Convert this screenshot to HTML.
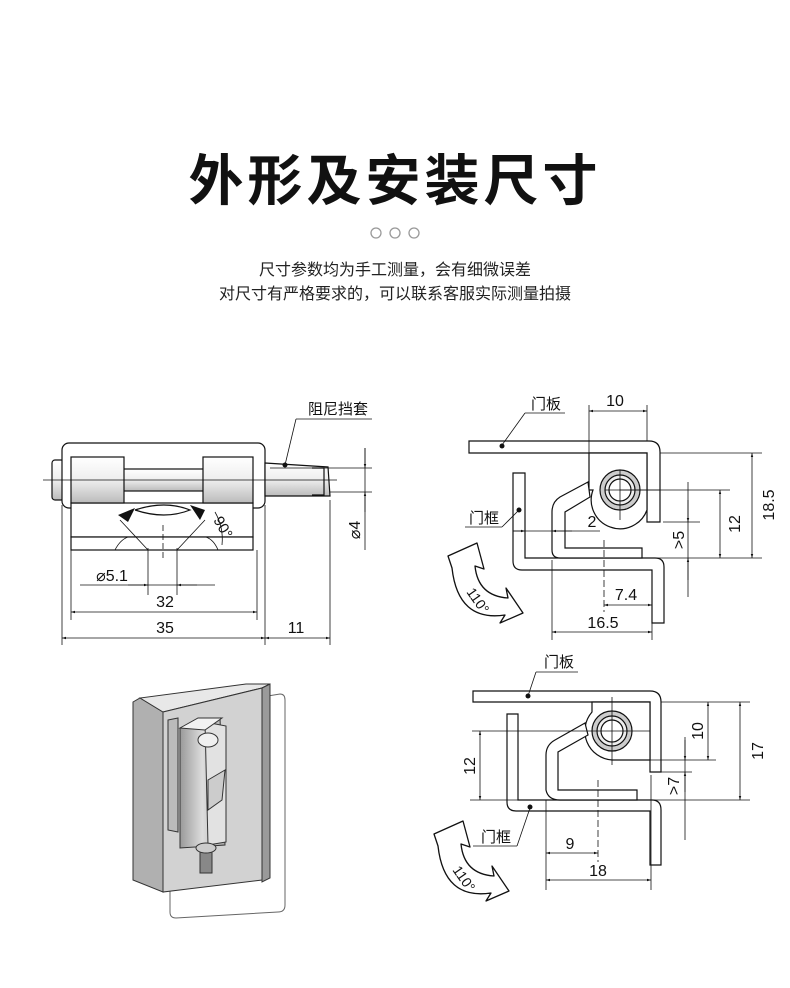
<!DOCTYPE html>
<html><head><meta charset="utf-8"><style>
html,body{margin:0;padding:0;background:#fff}
body{width:790px;height:988px;overflow:hidden;position:relative;font-family:"Liberation Sans","Noto Sans CJK SC",sans-serif}
svg{position:absolute;left:0;top:0}
</style></head><body>
<svg width="790" height="988" viewBox="0 0 790 988" xmlns="http://www.w3.org/2000/svg" font-family="Liberation Sans, Noto Sans CJK SC, sans-serif">
<defs>
<marker id="a" viewBox="0 0 10 10" refX="10" refY="5" markerWidth="9" markerHeight="5" orient="auto-start-reverse"><path d="M0,2 L10,5 L0,8 z" fill="#111"/></marker>
<linearGradient id="g" x1="0" y1="0" x2="0" y2="1"><stop offset="0" stop-color="#fff"/><stop offset="0.5" stop-color="#eee"/><stop offset="1" stop-color="#bbb"/></linearGradient>
<linearGradient id="m" x1="0" y1="0" x2="1" y2="0"><stop offset="0" stop-color="#999"/><stop offset="0.5" stop-color="#ddd"/><stop offset="1" stop-color="#aaa"/></linearGradient>
</defs>
<text x="395" y="200" font-size="55" font-weight="bold" text-anchor="middle" fill="#111" letter-spacing="4">外形及安装尺寸</text>
<g fill="none" stroke="#999" stroke-width="1.3"><circle cx="376" cy="233" r="5"/><circle cx="395" cy="233" r="5"/><circle cx="414" cy="233" r="5"/></g>
<text x="395" y="275" font-size="16" text-anchor="middle" fill="#222">尺寸参数均为手工测量，会有细微误差</text>
<text x="395" y="299" font-size="16" text-anchor="middle" fill="#222">对尺寸有严格要求的，可以联系客服实际测量拍摄</text>

<!-- front view -->
<g stroke="#111" stroke-width="1.2" fill="#fff">
<rect x="52" y="460" width="12" height="40" rx="3" fill="url(#g)"/>
<rect x="62" y="443" width="203" height="65" rx="7"/>
<rect x="71" y="503" width="182" height="34"/>
<rect x="71" y="537" width="182" height="13"/>
<rect x="110" y="469" width="120" height="22" fill="url(#g)"/>
<rect x="71" y="457" width="53" height="46" fill="url(#g)"/>
<rect x="203" y="457" width="50" height="46" fill="url(#g)"/>
<path d="M265 463 L328 467 L330 496 L265 496 Z" fill="url(#g)"/>
<path d="M312 468 L324 468 L324 495 L312 495" fill="none"/>
<path d="M135 510 Q165 500 190 510 Q165 520 135 510" fill="#fff"/>
<path d="M148 550 L120 520 M177 550 L205 520 M148 550 L177 550" fill="none" stroke-width="0.8"/>
<path d="M115 550 Q120 540 128 537 M218 550 Q214 540 206 537" fill="none" stroke-width="0.8"/>
</g>
<path d="M118 515 L135 508 L128 522 Z M205 510 L190 505 L200 520 Z" fill="#111"/>
<path d="M215 512 A55 55 0 0 1 222 545" fill="none" stroke="#111" stroke-width="0.8"/>
<text x="213" y="520" font-size="15" fill="#111" transform="rotate(60 213 520)">90°</text>
<g stroke="#111" stroke-width="0.8" fill="none">
<line x1="43" y1="480" x2="337" y2="480"/>
<line x1="163" y1="525" x2="163" y2="560" stroke-dasharray="6 3"/>
<line x1="270" y1="468" x2="372" y2="468"/><line x1="330" y1="492" x2="372" y2="492"/>
<line x1="365" y1="448" x2="365" y2="550"/>
<line x1="365" y1="448" x2="365" y2="468" marker-end="url(#a)"/>
<line x1="365" y1="512" x2="365" y2="492" marker-end="url(#a)"/>
<line x1="148" y1="548" x2="148" y2="595"/><line x1="177" y1="548" x2="177" y2="595"/>
<line x1="80" y1="585" x2="215" y2="585"/>
<line x1="128" y1="585" x2="148" y2="585" marker-end="url(#a)"/>
<line x1="197" y1="585" x2="177" y2="585" marker-end="url(#a)"/>
<line x1="62" y1="505" x2="62" y2="645"/><line x1="265" y1="505" x2="265" y2="645"/>
<line x1="71" y1="550" x2="71" y2="620"/><line x1="257" y1="550" x2="257" y2="620"/>
<line x1="330" y1="500" x2="330" y2="645"/>
<line x1="71" y1="612" x2="257" y2="612" marker-start="url(#a)" marker-end="url(#a)"/>
<line x1="62" y1="638" x2="265" y2="638" marker-start="url(#a)" marker-end="url(#a)"/>
<line x1="265" y1="638" x2="330" y2="638" marker-start="url(#a)" marker-end="url(#a)"/>
<line x1="296" y1="419" x2="372" y2="419"/><line x1="296" y1="419" x2="285" y2="465"/>
</g>
<circle cx="285" cy="465" r="2.5" fill="#111"/>
<g font-size="16" fill="#111" text-anchor="middle">
<text x="338" y="414" font-size="15">阻尼挡套</text>
<text x="112" y="581">⌀5.1</text>
<text x="165" y="607">32</text>
<text x="165" y="633">35</text>
<text x="296" y="633">11</text>
<text x="360" y="530" transform="rotate(-90 360 530)">⌀4</text>
</g>

<!-- side view 1 -->
<g stroke="#111" stroke-width="1.2" fill="#fff">
<path d="M469 441 L649 441 Q660 441 660 452 L660 522 L647 522 L647 453 L469 453 Z"/>
<path d="M589 453 L647 453 L647 510 A27 27 0 0 1 593 490 L589 490 Z"/>
<path d="M513 473 L525 473 L525 558 L655 558 Q664 558 664 567 L664 623 L652 623 L652 570 L522 570 Q513 570 513 561 Z"/>
<path d="M588 482 L560 497 Q552 502 552 512 L552 550 Q552 558 560 558 L642 558 L642 548 L565 548 L565 512 L590 497 Z"/>
<circle cx="620" cy="490" r="20" fill="#ccc"/><circle cx="620" cy="490" r="15" fill="#eee"/><circle cx="620" cy="490" r="11"/>
</g>
<g stroke="#111" stroke-width="0.8" fill="none">
<line x1="605" y1="490" x2="660" y2="490"/><line x1="620" y1="470" x2="620" y2="520"/>
<line x1="589" y1="405" x2="589" y2="453"/><line x1="647" y1="405" x2="647" y2="441"/>
<line x1="589" y1="411" x2="647" y2="411" marker-start="url(#a)" marker-end="url(#a)"/>
<line x1="660" y1="453" x2="762" y2="453"/><line x1="650" y1="558" x2="762" y2="558"/>
<line x1="620" y1="490" x2="730" y2="490"/><line x1="663" y1="522" x2="700" y2="522"/>
<line x1="752" y1="453" x2="752" y2="558" marker-start="url(#a)" marker-end="url(#a)"/>
<line x1="720" y1="490" x2="720" y2="558" marker-start="url(#a)" marker-end="url(#a)"/>
<line x1="688" y1="482" x2="688" y2="597"/>
<line x1="688" y1="500" x2="688" y2="522" marker-end="url(#a)"/>
<line x1="688" y1="580" x2="688" y2="558" marker-end="url(#a)"/>
<line x1="513" y1="531" x2="600" y2="531"/>
<line x1="513" y1="531" x2="525" y2="531" marker-end="url(#a)"/>
<line x1="572" y1="531" x2="552" y2="531" marker-end="url(#a)"/>
<line x1="604" y1="540" x2="604" y2="612" stroke-dasharray="7 3"/>
<line x1="552" y1="560" x2="552" y2="640"/><line x1="652" y1="600" x2="652" y2="640"/>
<line x1="604" y1="605" x2="652" y2="605" marker-start="url(#a)" marker-end="url(#a)"/>
<line x1="552" y1="632" x2="652" y2="632" marker-start="url(#a)" marker-end="url(#a)"/>
<line x1="525" y1="413" x2="565" y2="413"/><line x1="525" y1="413" x2="502" y2="445"/>
<line x1="465" y1="527" x2="502" y2="527"/><line x1="502" y1="527" x2="519" y2="510"/>
</g>
<circle cx="502" cy="446" r="2.5" fill="#111"/><circle cx="519" cy="510" r="2.5" fill="#111"/>
<g font-size="15" fill="#111" text-anchor="middle">
<text x="546" y="409">门板</text><text x="484" y="523">门框</text>
<text x="615" y="406" font-size="16">10</text>
<text x="592" y="527" font-size="16">2</text>
<text x="626" y="600" font-size="16">7.4</text>
<text x="603" y="628" font-size="16">16.5</text>
<text x="774" y="505" font-size="16" transform="rotate(-90 774 505)">18.5</text>
<text x="740" y="524" font-size="16" transform="rotate(-90 740 524)">12</text>
<text x="684" y="540" font-size="16" transform="rotate(-90 684 540)">&gt;5</text>
</g>
<g id="arr">
<path d="M448 556 L477 543 L484 569 L475 566 Q478 596 508 598 L506 588 L523 613 L500 623 L505 615 Q458 622 452 568 Z" fill="#fff" stroke="#111" stroke-width="1.3" stroke-linejoin="round"/>
<text x="466" y="592" font-size="14" fill="#111" transform="rotate(55 466 592)">110°</text>
</g>

<!-- side view 2 -->
<g stroke="#111" stroke-width="1.2" fill="#fff">
<path d="M473 691 L650 691 Q661 691 661 702 L661 772 L650 772 L650 702 L473 702 Z"/>
<path d="M592 702 L650 702 L650 760 L612 760 A29 29 0 0 1 592 712 Z"/>
<path d="M507 714 L518 714 L518 800 L652 800 Q661 800 661 810 L661 865 L650 865 L650 811 L516 811 Q507 811 507 802 Z"/>
<path d="M585 723 L555 740 Q546 745 546 755 L546 790 Q548 800 560 800 L637 800 L637 790 L558 790 L558 752 L588 735 Z"/>
<circle cx="612" cy="731" r="20" fill="#ccc"/><circle cx="612" cy="731" r="15" fill="#eee"/><circle cx="612" cy="731" r="11"/>
</g>
<g stroke="#111" stroke-width="0.8" fill="none">
<line x1="472" y1="731" x2="650" y2="731"/><line x1="612" y1="697" x2="612" y2="765"/>
<line x1="661" y1="702" x2="750" y2="702"/><line x1="650" y1="760" x2="716" y2="760"/>
<line x1="470" y1="800" x2="750" y2="800"/><line x1="650" y1="772" x2="692" y2="772"/>
<line x1="708" y1="702" x2="708" y2="760" marker-start="url(#a)" marker-end="url(#a)"/>
<line x1="740" y1="702" x2="740" y2="800" marker-start="url(#a)" marker-end="url(#a)"/>
<line x1="480" y1="731" x2="480" y2="800" marker-start="url(#a)" marker-end="url(#a)"/>
<line x1="685" y1="737" x2="685" y2="840"/>
<line x1="685" y1="740" x2="685" y2="760" marker-end="url(#a)"/>
<line x1="685" y1="792" x2="685" y2="772" marker-end="url(#a)"/>
<line x1="598" y1="780" x2="598" y2="862" stroke-dasharray="7 3"/>
<line x1="546" y1="800" x2="546" y2="890"/><line x1="651" y1="775" x2="651" y2="890"/>
<line x1="546" y1="853" x2="598" y2="853" marker-start="url(#a)" marker-end="url(#a)"/>
<line x1="546" y1="880" x2="651" y2="880" marker-start="url(#a)" marker-end="url(#a)"/>
<line x1="536" y1="672" x2="578" y2="672"/><line x1="536" y1="672" x2="528" y2="696"/>
<line x1="473" y1="846" x2="517" y2="846"/><line x1="517" y1="846" x2="530" y2="808"/>
</g>
<circle cx="528" cy="696" r="2.5" fill="#111"/><circle cx="530" cy="807" r="2.5" fill="#111"/>
<g font-size="15" fill="#111" text-anchor="middle">
<text x="559" y="667">门板</text><text x="496" y="842">门框</text>
<text x="570" y="849" font-size="16">9</text>
<text x="598" y="876" font-size="16">18</text>
<text x="703" y="731" font-size="16" transform="rotate(-90 703 731)">10</text>
<text x="763" y="751" font-size="16" transform="rotate(-90 763 751)">17</text>
<text x="475" y="766" font-size="16" transform="rotate(-90 475 766)">12</text>
<text x="679" y="786" font-size="16" transform="rotate(-90 679 786)">&gt;7</text>
</g>
<use href="#arr" transform="translate(-14 278)"/>

<!-- 3D -->
<g stroke="#333" stroke-width="1">
<path d="M170 712 L280 694 Q285 694 285 700 L285 905 Q285 912 278 912 L176 918 Q170 918 170 912 Z" fill="none" stroke="#666"/>
<path d="M133 702 L140 698 L163 712 L163 892 L133 880 Z" fill="#b0b0b0"/>
<path d="M140 698 L163 712 L262 688 L270 684 L246 684 Z" fill="#e8e8e8"/>
<path d="M163 712 L262 688 L262 880 L163 892 Z" fill="#d2d2d2"/>
<path d="M262 688 L270 684 L270 878 L262 882 Z" fill="#9a9a9a"/>
<path d="M168 720 L178 718 L178 832 L168 830 Z" fill="#bbb"/>
<path d="M180 728 L220 718 L225 845 L180 848 Z" fill="url(#m)"/>
<path d="M205 722 L226 726 L226 842 L208 845 Z" fill="#e2e2e2"/>
<path d="M180 728 L198 718 L222 718 L205 730 Z" fill="#f2f2f2"/>
<ellipse cx="208" cy="740" rx="10" ry="7" fill="#f0f0f0"/>
<path d="M208 780 L225 770 L222 800 L208 810 Z" fill="#ccc"/>
<rect x="200" y="848" width="12" height="25" fill="#888"/>
<ellipse cx="206" cy="848" rx="10" ry="5" fill="#ccc"/>
</g>
</svg>
</body></html>
